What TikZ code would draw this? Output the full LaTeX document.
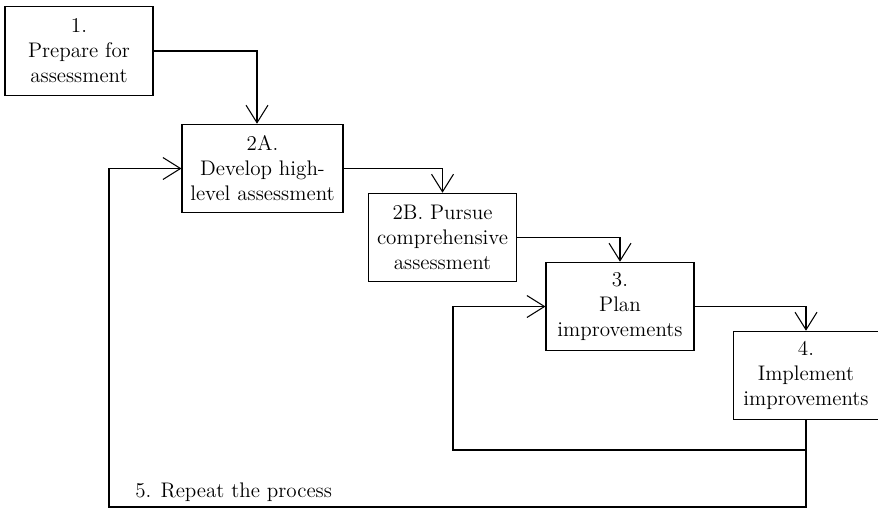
\documentclass[tikz,border=0pt]{standalone}
\usepackage{tikz}
\usetikzlibrary{positioning,calc,arrows.meta}

\tikzset{
    stage/.style={draw, line width=0.6pt, align=center, inner sep=1pt,
        minimum width=2.96cm, minimum height=1.77cm,
        font=\fontsize{12}{14.2}\selectfont},
    flow/.style={line width=0.6pt, -{Straight Barb[length=10pt,width=12.5pt,line width=0.6pt]}}
}

\begin{document}
\begin{tikzpicture}[x=0.02cm, y=-0.02cm]
    \useasboundingbox (0,0) rectangle (878,508);

    % Stages
    \node [stage] (prep) at (79,51) {1.\\Prepare for\\assessment};
    \node [stage, minimum width=3.22cm] (high) at (262.5,168.5) {2A.\\Develop high-\\level assessment};
    \node [stage] (pursue) at (442.5,237.5) {2B. Pursue\\comprehensive\\assessment};
    \node [stage] (plan) at (620,306.5) {3.\\Plan\\improvements};
    \node [stage, minimum width=2.92cm] (impl) at (806,375.5) {4.\\Implement\\improvements};

    % Forward flow
    \draw [flow] (prep.east) -| ([xshift=-0.11cm]high.north);
    \draw [flow] (high.east) -| (pursue.north);
    \draw [flow] (pursue.east) -| (plan.north);
    \draw [flow] (plan.east) -| (impl.north);

    % Feedback loops
    \coordinate (inner) at (453,450);
    \coordinate (outer) at (109,507);
    \draw [flow] (impl.south) |- (inner) |- (plan.west);
    \draw [flow] (impl.south) |- (outer) |- (high.west);
    \node [anchor=base west, inner sep=0pt, font=\fontsize{12}{14.2}\selectfont] (repeat) at (135,497) {5. Repeat the process};
\end{tikzpicture}
\end{document}
